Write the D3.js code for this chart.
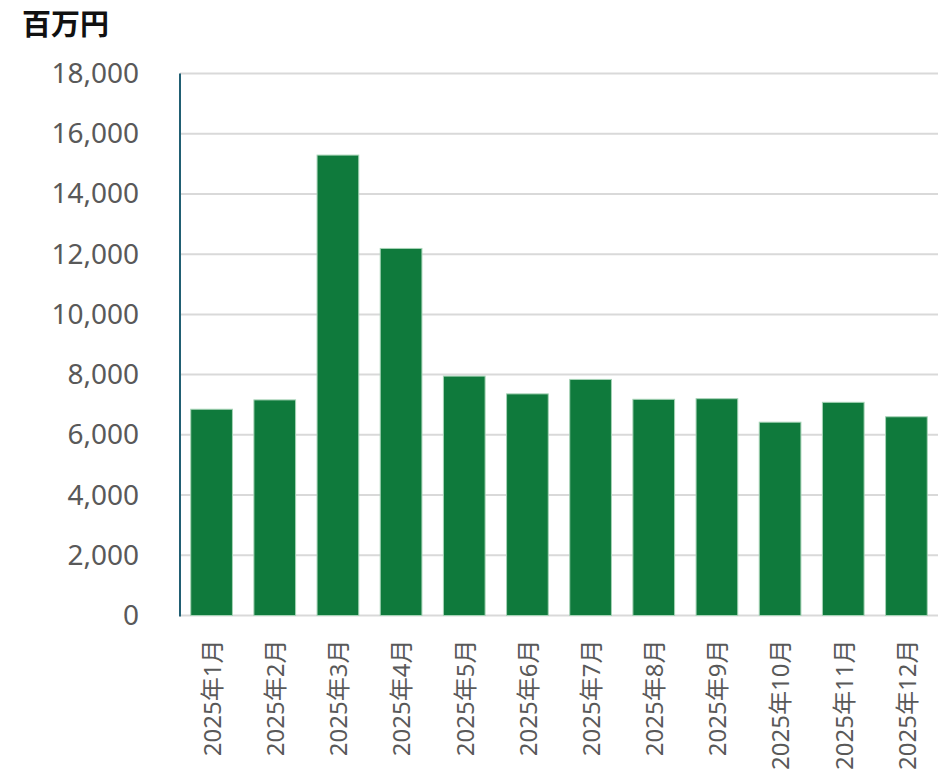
<!DOCTYPE html>
<html>
<head>
<meta charset="utf-8">
<script src="https://cdn.jsdelivr.net/npm/d3@7"></script>
<style>
  body { margin: 0; background: #fff; }
  svg { display: block; font-family: "Noto Sans", "Noto Sans CJK JP", sans-serif; }
</style>
</head>
<body>
<svg id="chart" width="943" height="770"></svg>
<script>
let months = ["2025年1月", "2025年2月", "2025年3月", "2025年4月", "2025年5月", "2025年6月",
  "2025年7月", "2025年8月", "2025年9月", "2025年10月", "2025年11月", "2025年12月"];
let values = [6850, 7160, 15290, 12190, 7950, 7360, 7840, 7180, 7200, 6420, 7080, 6600];
let yTicks = [0, 2000, 4000, 6000, 8000, 10000, 12000, 14000, 16000, 18000];
let unitLabel = "百万円";

let svg = d3.select("#chart");

let margin = { top: 73.5, right: 5, bottom: 154.5, left: 180 };
let width = 943 - margin.left - margin.right;
let height = 770 - margin.top - margin.bottom;

let xScale = d3.scaleBand().domain(months).range([margin.left, margin.left + width]).paddingInner(0.34).paddingOuter(0.17);
let yScale = d3.scaleLinear().domain([0, 18000]).range([margin.top + height, margin.top]);

// gridlines
svg.append("g")
  .selectAll("line")
  .data(yTicks)
  .enter()
  .append("line")
  .attr("x1", margin.left)
  .attr("x2", margin.left + width)
  .attr("y1", (d) => yScale(d))
  .attr("y2", (d) => yScale(d))
  .attr("stroke", "#d9d9d9")
  .attr("stroke-width", 2);

// y labels
let yAxis = d3.axisLeft(yScale).tickValues(yTicks).tickFormat(d3.format(",")).tickSize(0).tickPadding(41);
let yG = svg.append("g").attr("transform", "translate(" + margin.left + ",0)").call(yAxis);
yG.select(".domain").remove();
yG.selectAll("text")
  .attr("fill", "#595959")
  .attr("font-size", 28)
  .attr("font-family", "'Noto Sans', 'Noto Sans CJK JP', sans-serif");

// bars
svg.append("g")
  .selectAll("rect")
  .data(values)
  .enter()
  .append("rect")
  .attr("x", (d, i) => xScale(months[i]))
  .attr("y", (d) => yScale(d))
  .attr("width", xScale.bandwidth())
  .attr("height", (d) => yScale(0) - yScale(d))
  .attr("fill", "#0f7a3c")
  .attr("stroke", "#a6d3b6")
  .attr("stroke-width", 1);

// left axis line
svg.append("line")
  .attr("x1", margin.left)
  .attr("x2", margin.left)
  .attr("y1", margin.top)
  .attr("y2", yScale(0) + 1)
  .attr("stroke", "#215f73")
  .attr("stroke-width", 2);

// x labels
let xAxis = d3.axisBottom(xScale).tickSize(0).tickPadding(0);
let xG = svg.append("g").attr("transform", "translate(0," + yScale(0) + ")").call(xAxis);
xG.select(".domain").remove();
xG.selectAll("text")
  .attr("fill", "#595959")
  .attr("font-size", 24)
  .attr("font-family", "'Noto Sans', 'Noto Sans CJK JP', sans-serif")
  .attr("text-anchor", "end")
  .attr("dy", "0.35em")
  .attr("transform", "translate(1,24) rotate(-90)")
  .attr("y", 0)
  .attr("x", 0);

// unit title
svg.append("text")
  .attr("x", 22)
  .attr("y", 35)
  .attr("font-size", 29)
  .attr("font-weight", "bold")
  .attr("fill", "#111")
  .text(unitLabel);
</script>
</body>
</html>
